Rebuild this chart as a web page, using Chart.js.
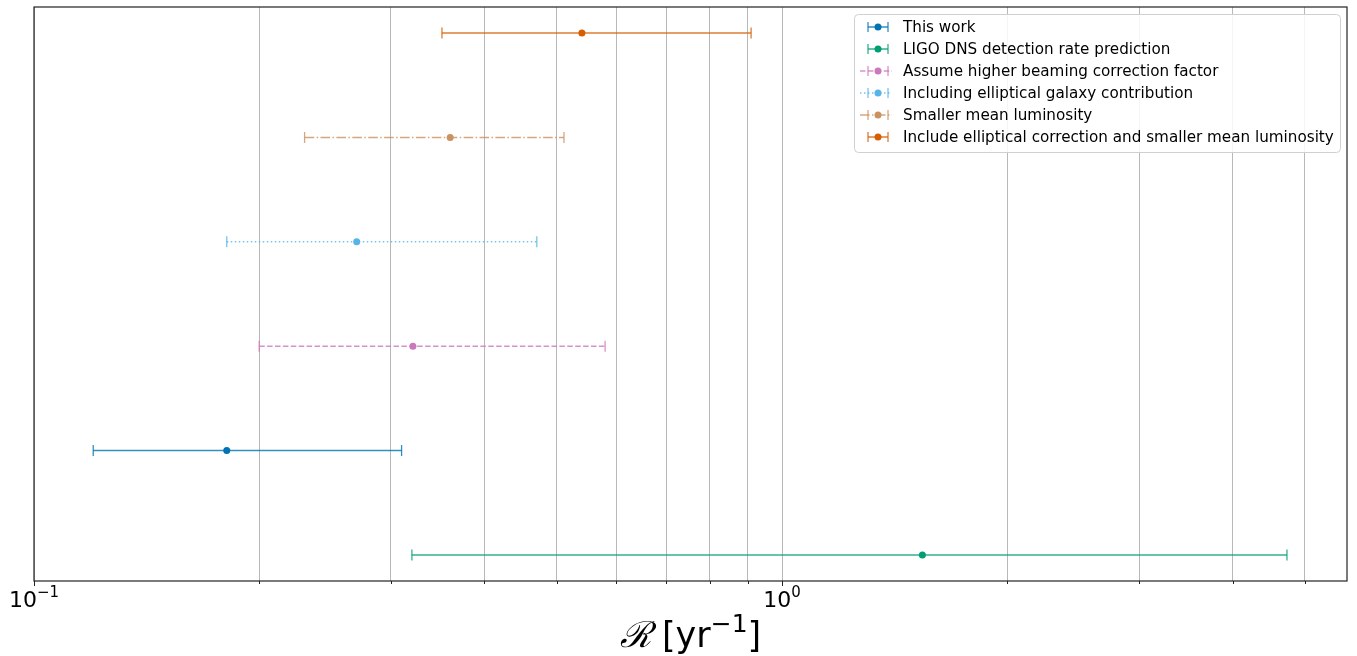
<!DOCTYPE html>
<html>
<head>
<meta charset="utf-8">
<script src="https://cdn.jsdelivr.net/npm/chart.js@4"></script>
<style>
  html, body { margin: 0; padding: 0; background: #fff; }
  #wrap { width: 1357px; height: 656px; }
</style>
</head>
<body>
<div id="wrap"><canvas id="rateChart"></canvas></div>
<script>
// series (rate in yr^-1)
const seriesNames = [
    'This work',
    'LIGO DNS detection rate prediction',
    'Assume higher beaming correction factor',
    'Including elliptical galaxy contribution',
    'Smaller mean luminosity',
    'Include elliptical correction and smaller mean luminosity'
];
const rowIndex = [1, 0, 2, 3, 4, 5];
const centerRate = [0.181, 1.54, 0.321, 0.270, 0.360, 0.540];
const lowerRate = [0.120, 0.320, 0.200, 0.181, 0.230, 0.351];
const upperRate = [0.310, 4.73, 0.580, 0.470, 0.511, 0.909];
const xTicks = [0.1, 0.2, 0.3, 0.4, 0.5, 0.6, 0.7, 0.8, 0.9, 1, 2, 3, 4, 5];

const colors = ['#0173b2', '#029e73', '#cc78bc', '#56b4e9', '#ca9161', '#d55e00'];
const dashes = [[], [], [5.5, 2.4], [1.5, 2.5], [9.6, 2.4, 1.5, 2.4], []];

function fade(hex, a) {
    const n = parseInt(hex.slice(1), 16);
    return 'rgba(' + (n >> 16) + ',' + ((n >> 8) & 255) + ',' + (n & 255) + ',' + a + ')';
}

const datasets = seriesNames.map((name, i) => ({
    label: name,
    data: [
        { x: lowerRate[i], y: rowIndex[i] },
        { x: centerRate[i], y: rowIndex[i] },
        { x: upperRate[i], y: rowIndex[i] }
    ],
    showLine: true,
    borderColor: fade(colors[i], 0.8),
    borderWidth: 1.5,
    borderDash: dashes[i],
    pointStyle: ['line', 'circle', 'line'],
    pointRotation: [90, 0, 90],
    pointRadius: [5.5, 3.5, 5.5],
    pointBorderWidth: [1.3, 0, 1.3],
    pointBorderColor: fade(colors[i], 0.8),
    pointBackgroundColor: colors[i],
    pointHoverRadius: [5.5, 3.5, 5.5]
}));

// frame, tick marks, tick labels, axis title and legend
const decorPlugin = {
    id: 'decor',
    afterDraw(chart) {
        const ctx = chart.ctx;
        const a = chart.chartArea;
        const xs = chart.scales.x;
        ctx.save();

        // spines
        ctx.strokeStyle = '#222';
        ctx.lineWidth = 1.2;
        ctx.strokeRect(a.left, a.top, a.right - a.left, a.bottom - a.top);

        // tick marks
        ctx.lineWidth = 1;
        xTicks.forEach(v => {
            const px = Math.round(xs.getPixelForValue(v)) + 0.5;
            const major = v === 0.1 || v === 1;
            ctx.beginPath();
            ctx.moveTo(px, a.bottom);
            ctx.lineTo(px, a.bottom + (major ? 5 : 3));
            ctx.stroke();
        });

        // tick labels 10^-1, 10^0
        ctx.fillStyle = '#000';
        ctx.textBaseline = 'alphabetic';
        [[0.1, '\u22121'], [1, '0']].forEach(([v, ex]) => {
            const px = xs.getPixelForValue(v);
            ctx.font = '22px "DejaVu Sans"';
            const wBase = ctx.measureText('10').width;
            ctx.font = '15px "DejaVu Sans"';
            const wExp = ctx.measureText(ex).width;
            const x0 = px - (wBase + wExp) / 2;
            ctx.font = '22px "DejaVu Sans"';
            ctx.textAlign = 'left';
            ctx.fillText('10', x0, 607);
            ctx.font = '15px "DejaVu Sans"';
            ctx.fillText(ex, x0 + wBase, 597);
        });

        // axis title
        const cx = (a.left + a.right) / 2;
        const parts = [
            { t: '\u211B', f: 'italic 36px "DejaVu Serif"', dy: 0 },
            { t: ' [yr', f: '35px "DejaVu Sans"', dy: 0 },
            { t: '\u22121', f: '25px "DejaVu Sans"', dy: -15 },
            { t: ']', f: '35px "DejaVu Sans"', dy: 0 }
        ];
        let total = 0;
        parts.forEach(p => { ctx.font = p.f; p.w = ctx.measureText(p.t).width; total += p.w; });
        let tx = cx - total / 2;
        parts.forEach(p => {
            ctx.font = p.f;
            ctx.fillText(p.t, tx, 647 + p.dy);
            tx += p.w;
        });

        // legend
        const lx = 854, ly = 14, lw = 486, lh = 138;
        ctx.beginPath();
        ctx.roundRect(lx + 0.5, ly + 0.5, lw, lh, 4);
        ctx.fillStyle = 'rgba(255,255,255,0.85)';
        ctx.fill();
        ctx.strokeStyle = '#d0d0d0';
        ctx.lineWidth = 1;
        ctx.stroke();

        ctx.font = '15.2px "DejaVu Sans"';
        ctx.textBaseline = 'middle';
        seriesNames.forEach((name, i) => {
            const y = 27 + i * 22;
            const col = fade(colors[i], 0.8);
            ctx.strokeStyle = col;
            ctx.lineWidth = 1.5;
            ctx.setLineDash(dashes[i]);
            ctx.beginPath();
            if (dashes[i].length) { ctx.moveTo(860, y); ctx.lineTo(892, y); }
            else { ctx.moveTo(868, y); ctx.lineTo(888, y); }
            ctx.stroke();
            ctx.setLineDash([]);
            ctx.lineWidth = 1.3;
            ctx.beginPath();
            ctx.moveTo(868, y - 5); ctx.lineTo(868, y + 5);
            ctx.moveTo(888, y - 5); ctx.lineTo(888, y + 5);
            ctx.stroke();
            ctx.fillStyle = colors[i];
            ctx.beginPath();
            ctx.arc(878, y, 3.5, 0, Math.PI * 2);
            ctx.fill();
            ctx.fillStyle = '#000';
            ctx.fillText(name, 903, y + 1);
        });
        ctx.restore();
    }
};

new Chart(document.getElementById('rateChart').getContext('2d'), {
    type: 'scatter',
    data: { datasets: datasets },
    options: {
        responsive: true,
        maintainAspectRatio: false,
        animation: false,
        layout: { padding: { left: 34, right: 10, top: 7, bottom: 0 } },
        plugins: {
            legend: { display: false },
            tooltip: { enabled: false },
            title: { display: false }
        },
        scales: {
            x: {
                type: 'logarithmic',
                min: 0.1,
                max: 5.69,
                afterBuildTicks: scale => {
                    scale.ticks = xTicks.map(v => ({ value: v }));
                },
                afterFit: scale => { scale.height = 75; },
                ticks: { display: false },
                grid: { color: '#b8b8b8', lineWidth: 1, drawTicks: false },
                border: { display: false }
            },
            y: {
                display: false,
                min: -0.25,
                max: 5.25
            }
        }
    },
    plugins: [decorPlugin]
});
</script>
</body>
</html>
